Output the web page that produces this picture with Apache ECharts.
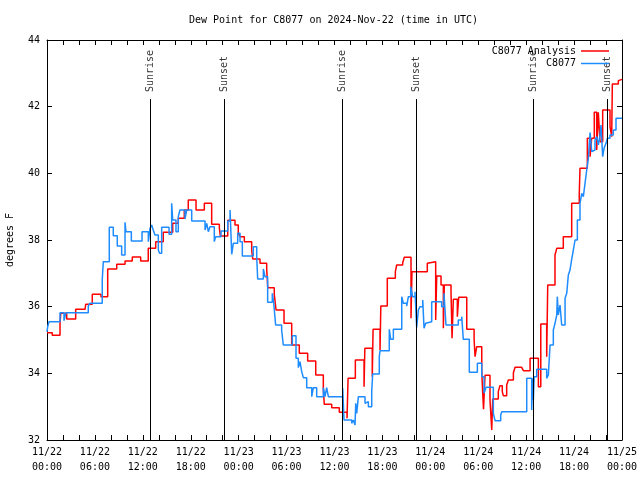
<!DOCTYPE html>
<html><head><meta charset="utf-8">
<script src="https://cdn.jsdelivr.net/npm/echarts/dist/echarts.min.js"></script>
<style>html,body{margin:0;padding:0;background:#fff}#c{width:640px;height:480px}</style>
</head><body><div id="c"></div>
<script>
// ---- data (hours since 2024-11-22 00:00 UTC) ----
const xTickLabels = ['11/22\n00:00','11/22\n06:00','11/22\n12:00','11/22\n18:00','11/23\n00:00','11/23\n06:00','11/23\n12:00','11/23\n18:00','11/24\n00:00','11/24\n06:00','11/24\n12:00','11/24\n18:00','11/25\n00:00'];
const yTicks = [32, 34, 36, 38, 40, 42, 44];

const sunNames = ['Sunrise','Sunset','Sunrise','Sunset','Sunrise','Sunset'];
const sunHours = [12.94, 22.20, 36.98, 46.24, 60.90, 70.21];

const redHours = [0,0.66,1.63,1.72,2.47,3.59,4.76,4.85,5.67,6.76,7.60,8.73,9.77,10.68,11.73,12.68,13.61,14.56,15.74,16.44,17.19,17.69,18.66,19.70,20.62,21.58,21.70,22.63,23.54,23.95,24.17,24.71,25.63,25.76,26.67,27.51,27.64,28.46,28.68,29.68,30.64,31.59,32.64,33.65,34.60,34.72,35.65,36.60,37.57,37.70,38.61,39.70,39.80,40.73,40.83,41.70,41.80,42.61,43.62,43.79,44.54,44.74,45.58,45.70,47.62,47.87,48.67,48.80,49.34,49.63,49.75,50.59,50.72,50.88,51.38,51.55,52.56,53.48,53.60,53.81,54.44,54.56,54.66,54.75,54.85,55.47,55.69,55.81,56.51,56.72,57.01,57.14,57.56,57.77,58.40,58.61,59.44,59.65,60.49,61.53,61.83,62.57,62.70,63.61,63.83,64.65,65.70,66.65,66.74,67.66,68.00,68.20,68.53,68.83,69.03,69.25,69.58,70.50,70.71,70.79,71.54,71.75,72.00];
const redValues = [35.22,35.14,35.5,35.8,35.63,35.92,35.97,36.07,36.37,36.3,37.13,37.27,37.37,37.49,37.37,37.75,37.95,38.23,38.5,38.65,38.9,39.2,38.9,39.1,38.47,38.37,38.12,38.59,38.45,38.2,38.1,37.95,37.7,37.43,37.3,37.13,36.57,36.37,35.9,35.5,34.85,34.6,34.37,33.95,33.55,33.07,32.97,32.83,32.65,33.85,34.4,33.6,34.75,33.9,35.32,34.7,36.02,36.85,37.05,37.25,37.32,37.48,35.65,37.05,37.3,37.35,35.6,36.92,36.65,35.35,36.65,36.45,35.05,36.22,35.7,36.28,35.32,35.02,34.5,34.8,34.05,33.4,32.92,33.4,33.94,33.2,32.3,33.23,33.45,33.63,33.45,33.33,33.65,33.8,34.02,34.18,34.13,34.08,34.45,33.6,35.48,34.5,36.65,37.55,37.75,38.1,39.1,39.4,40.15,41.05,40.5,41.05,41.83,40.7,41.83,40.95,41.9,41.4,41.1,42.68,42.78,42.82,42.82];

const blueHours = [0,0.09,0.25,1.63,2.13,2.38,5.17,5.38,6.92,7.05,7.80,8.30,8.80,9.35,9.77,9.89,10.56,11.90,12.69,12.90,13.11,13.30,13.52,13.94,14.10,14.36,15.28,15.61,15.74,16.15,16.44,16.65,17.28,17.49,18.12,19.79,20.00,20.20,20.41,20.95,21.12,21.79,22.63,22.92,23.13,23.33,23.88,24.17,24.46,25.83,26.26,26.38,27.09,27.30,27.63,28.21,28.38,28.63,29.38,29.59,30.72,31.18,31.47,31.68,31.89,32.10,32.52,33.15,33.35,33.77,34.60,34.81,35.02,35.23,37.03,37.19,38.15,38.36,38.57,38.66,38.78,38.99,39.82,40.03,40.24,40.66,40.78,41.61,41.70,42.86,43.04,43.37,44.42,44.62,45.04,45.25,45.54,45.79,46.08,46.29,46.50,46.71,47.05,47.21,47.42,47.62,48.17,49.42,49.71,49.96,51.50,51.93,52.13,52.88,53.89,54.44,54.73,54.98,55.89,56.10,56.81,56.94,60.07,60.69,60.80,60.90,61.00,61.32,62.57,62.78,62.99,63.40,63.61,63.83,63.90,64.03,64.24,64.45,64.87,65.08,65.28,65.49,65.70,65.91,66.12,66.41,66.74,66.96,67.16,67.37,67.58,67.79,68.00,68.21,68.41,68.62,68.83,69.04,69.25,69.37,69.58,69.75,70.00,70.16,70.49,70.91,71.25,72.00];
const blueValues = [35.25,35.4,35.55,35.82,35.58,35.82,36.02,36.1,36.82,37.35,38.38,38.13,37.82,37.55,38.53,38.25,37.97,38.25,37.95,38.35,38.45,38.3,38.15,37.7,37.6,38.38,38.17,39.1,38.6,38.25,38.7,38.9,38.63,38.9,38.57,38.3,38.5,38.25,38.4,37.95,38.1,38.27,38.57,38.9,37.57,37.9,38.2,37.95,37.52,37.8,37.5,36.83,37.13,36.9,36.13,36.4,36.13,35.45,35.3,34.85,35.13,34.45,34.17,34.35,34.05,33.87,33.57,33.3,33.57,33.3,33.57,33.3,33.57,33.3,33.55,32.6,32.5,32.6,32.45,33.1,32.8,33.3,33.1,33.15,33.0,33.45,33.98,34.5,34.68,35.32,35.02,35.32,36.3,36.1,36.02,36.3,36.6,36.3,36.45,35.38,35.9,36.0,36.2,35.35,35.5,35.55,36.15,36.0,36.4,35.45,35.6,35.7,35.02,34.03,34.3,33.9,33.4,33.58,32.8,32.58,32.75,32.85,33.85,32.9,33.85,33.2,33.9,34.12,33.85,33.95,34.85,35.3,35.5,35.75,36.3,35.75,36.05,35.45,36.25,36.4,36.95,37.1,37.42,37.7,38.0,38.6,39.1,39.4,39.3,39.7,40.1,40.45,41.22,40.65,40.7,41.0,41.1,40.85,41.15,41.45,40.5,40.75,40.9,41.05,41.15,41.3,41.65,41.65];

// ---- chart ----
const FONT = 'DejaVu Sans Mono';
const SUN_LINE_TOP = 42.23;
const SUN_LABEL_Y = 42.44;
const pairs = (xs, ys) => xs.map((x, i) => [x, ys[i]]);
const txt = {fontFamily: FONT, fontSize: 10, color: '#000'};
const black = {color: '#000', width: 1};

const xBase = (pos, labels) => ({
  type: 'value', position: pos, min: 0, max: 72, interval: 2,
  axisLine: {show: true, onZero: false, lineStyle: black},
  axisTick: {show: true, inside: true, length: 5, lineStyle: black},
  axisLabel: labels ? Object.assign({
    formatter: v => (v % 6 === 0 ? xTickLabels[v / 6] : ''),
    lineHeight: 15, margin: 5
  }, txt) : {show: false},
  splitLine: {show: false}
});
const yBase = (pos, labels) => ({
  type: 'value', position: pos, min: yTicks[0], max: yTicks[yTicks.length - 1], interval: 2,
  axisLine: {show: true, onZero: false, lineStyle: black},
  axisTick: {show: true, inside: true, length: 5, lineStyle: black},
  axisLabel: labels ? Object.assign({margin: 7}, txt) : {show: false},
  splitLine: {show: false}
});

const legendBase = (name, top) => ({
  data: [name], right: 31, top: top, orient: 'vertical', align: 'right',
  icon: 'rect', itemWidth: 28, itemHeight: 1.5, padding: 0, selectedMode: false,
  textStyle: txt
});

const chart = echarts.init(document.getElementById('c'));
chart.setOption({
  animation: false,
  backgroundColor: '#fff',
  title: {
    text: 'Dew Point for C8077 on 2024-Nov-22 (time in UTC)',
    left: 189, top: 15, padding: 0,
    textStyle: Object.assign({fontWeight: 'normal'}, txt)
  },
  legend: [legendBase('C8077 Analysis', 46), legendBase('C8077', 58.5)],
  grid: {left: 47, right: 18, top: 40, bottom: 40, containLabel: false, outerBoundsMode: 'none'},
  xAxis: [xBase('bottom', true), xBase('top', false)],
  yAxis: [
    Object.assign(yBase('left', true), {
      name: 'degrees F', nameLocation: 'middle', nameRotate: 90, nameGap: 32,
      nameTextStyle: txt
    }),
    yBase('right', false)
  ],
  series: [
    {
      name: 'C8077 Analysis', type: 'line', step: 'end', symbol: 'none',
      data: pairs(redHours, redValues),
      lineStyle: {color: '#ff0000', width: 1.5}, itemStyle: {color: '#ff0000'}
    },
    {
      name: 'C8077', type: 'line', step: 'end', symbol: 'none',
      data: pairs(blueHours, blueValues),
      lineStyle: {color: '#1e8cff', width: 1.5}, itemStyle: {color: '#1e8cff'}
    },
    {
      name: 'sun', type: 'scatter', symbolSize: 0, silent: true,
      data: sunHours.map((h, i) => ({value: [h, SUN_LABEL_Y], name: sunNames[i]})),
      label: Object.assign({
        show: true, formatter: p => p.name, position: [0, 0],
        rotate: 90, align: 'left', verticalAlign: 'middle'
      }, txt),
      markLine: {
        silent: true, symbol: 'none', label: {show: false},
        lineStyle: {color: '#000', width: 1, type: 'solid'},
        data: sunHours.map(h => [{coord: [h, yTicks[0]]}, {coord: [h, SUN_LINE_TOP]}])
      }
    }
  ]
});
</script>
</body></html>
